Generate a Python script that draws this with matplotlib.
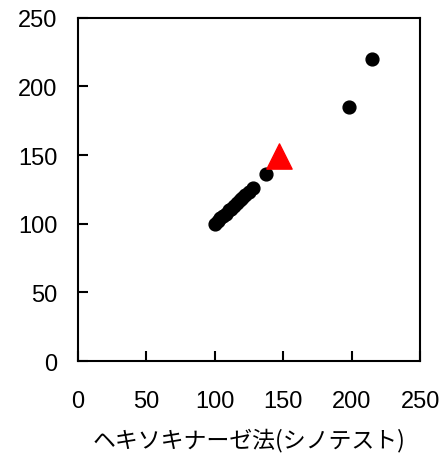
import matplotlib
matplotlib.use("Agg")
import matplotlib.pyplot as plt

plt.rcParams['font.family'] = ['Liberation Sans', 'Noto Sans CJK JP', 'DejaVu Sans']

# reference method (x) vs. compared method (y)
dots_x = [100, 102, 104, 106, 108, 110, 112, 114, 116, 118, 120, 122, 125, 128, 137, 198, 215]
dots_y = [100, 102, 104, 106, 107, 110, 111, 113, 115, 117, 119, 121, 123, 126, 136, 185, 220]
tri_x = [147]
tri_y = [149]

ticks = [0, 50, 100, 150, 200, 250]
xlabel = 'ヘキソキナーゼ法(シノテスト)'

fig = plt.figure(figsize=(4.43, 4.60), dpi=100)
ax = fig.add_axes([0.176, 0.213, 0.773, 0.746])

ax.scatter(dots_x, dots_y, s=85, color='black', zorder=3)
ax.scatter(tri_x, tri_y, marker='^', s=330, color='red', zorder=4)

ax.set_xlim(0, 250)
ax.set_ylim(0, 250)
ax.set_xticks(ticks)
ax.set_yticks(ticks)
ax.tick_params(direction='in', length=7, width=1.5, labelsize=17)
ax.tick_params(axis='x', pad=21)
ax.tick_params(axis='y', pad=15)
for s in ax.spines.values():
    s.set_linewidth(1.5)

ax.set_xlabel(xlabel, fontsize=16.5, family=['Noto Sans CJK JP', 'DejaVu Sans'], labelpad=11)

fig.savefig('out.png', dpi=100)
